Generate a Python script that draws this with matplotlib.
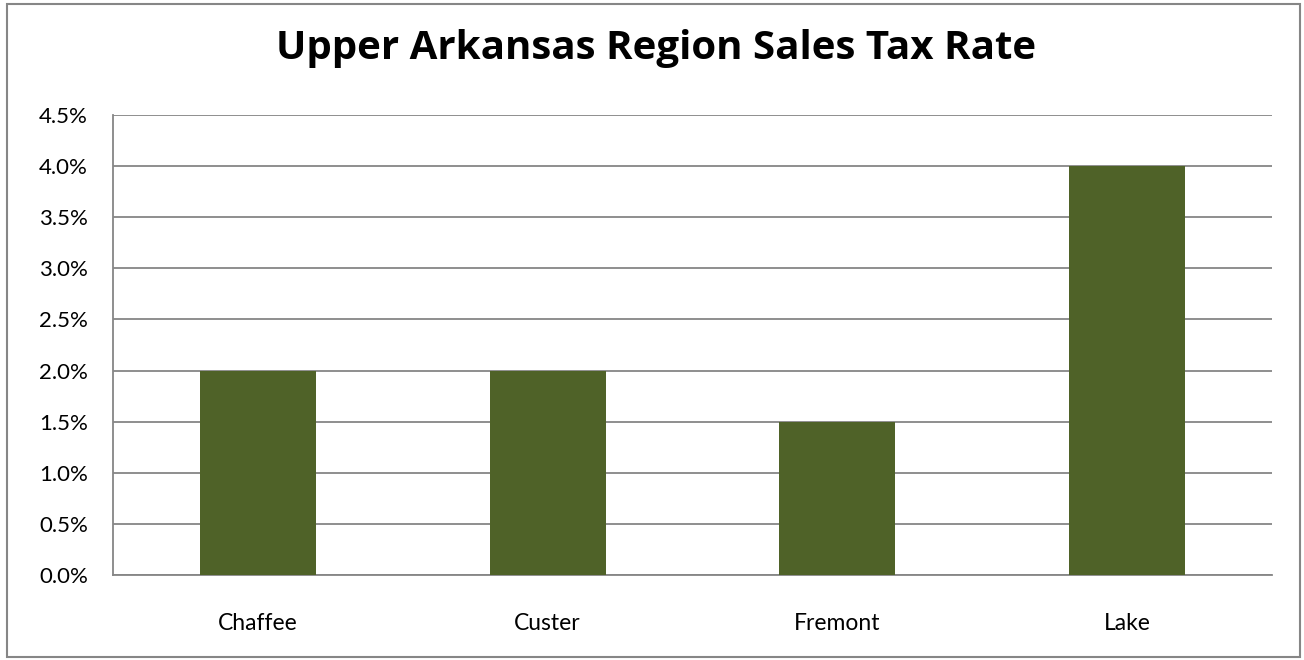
import matplotlib
matplotlib.use("Agg")
import matplotlib.pyplot as plt
from matplotlib.ticker import FuncFormatter, MultipleLocator
from matplotlib.patches import Rectangle

categories = ["Chaffee", "Custer", "Fremont", "Lake"]
rates = [2.0, 2.0, 1.5, 4.0]
title = "Upper Arkansas Region Sales Tax Rate"

plt.rcParams['font.family'] = ['Lato', 'DejaVu Sans']

fig = plt.figure(figsize=(13.04, 6.60), dpi=100)
fig.patches.append(Rectangle((7/1304, 3/660), 1293/1304, 653/660, transform=fig.transFigure,
                             fill=False, edgecolor='#868686', linewidth=1.5))
ax = fig.add_axes([113/1304, 1-575/660, (1272-113)/1304, (575-115)/660])

x = range(len(categories))
ax.bar(x, rates, width=0.40, color='#4F6228', zorder=3)
ax.set_xlim(-0.5, len(categories)-0.5)
ax.set_ylim(0, 4.5)
ax.yaxis.set_major_locator(MultipleLocator(0.5))
ax.yaxis.set_major_formatter(FuncFormatter(lambda v, p: f"{v:.1f}%"))
ax.set_xticks(list(x))
ax.set_xticklabels(categories)
ax.grid(axis='y', color='#868686', linewidth=1.3, zorder=0)
for s in ['top', 'right']:
    ax.spines[s].set_visible(False)
for s in ['left', 'bottom']:
    ax.spines[s].set_color('#868686')
    ax.spines[s].set_linewidth(1.3)
ax.tick_params(axis='y', length=0, pad=18, labelsize=16)
ax.tick_params(axis='x', length=0, pad=27, labelsize=16.5)
fig.text(0.503, 1-48/660, title, ha='center', va='center', fontsize=29, fontweight='bold',
         family=['Open Sans', 'DejaVu Sans'])

fig.savefig("out.png", dpi=100)
